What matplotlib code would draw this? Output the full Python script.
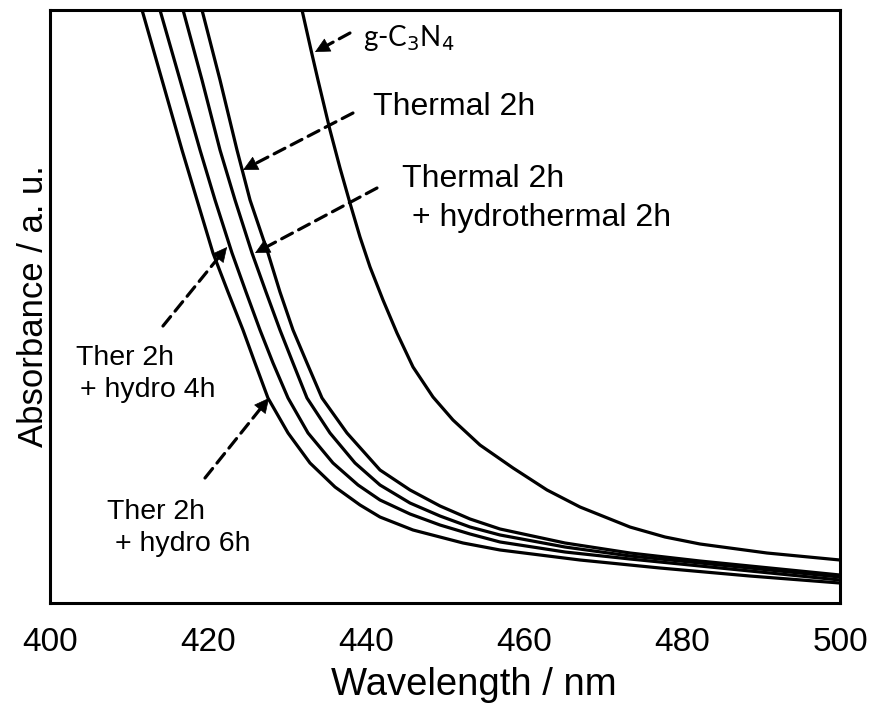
import matplotlib
matplotlib.use("Agg")
import matplotlib.pyplot as plt

plt.rcParams['font.family'] = ['Liberation Sans', 'DejaVu Sans']

# ---- data (absorbance in arbitrary units, 0..1 = plot height)
wl_g = [431.90, 433.04, 433.92, 435.44, 436.71, 437.97, 439.24, 440.51, 442.15, 443.92,
        445.95, 448.48, 451.01, 454.43, 458.61, 462.91, 467.09, 473.42, 477.85, 482.28,
        490.76, 500.0]
ab_g = [1.000, 0.9325, 0.8820, 0.7976, 0.7336, 0.6745, 0.6172, 0.5666, 0.5110, 0.4553,
        0.3980, 0.3474, 0.3086, 0.2664, 0.2277, 0.1906, 0.1619, 0.1281, 0.1113, 0.0995,
        0.0843, 0.0725]

wl_t2 = [419.24, 421.52, 423.67, 425.32, 427.59, 429.11, 430.76, 432.53, 434.43, 437.59,
         441.77, 445.57, 449.37, 453.16, 456.96, 465.19, 473.42, 482.28, 491.14, 500.0]
ab_t2 = [1.000, 0.8820, 0.7639, 0.6796, 0.5902, 0.5245, 0.4604, 0.4047, 0.3457, 0.2867,
         0.2243, 0.1906, 0.1636, 0.1417, 0.1248, 0.1012, 0.0843, 0.0708, 0.0590, 0.0472]

wl_h2 = [416.84, 419.24, 421.52, 423.42, 425.57, 427.34, 429.11, 430.76, 432.53, 435.44,
         438.61, 441.77, 445.57, 449.37, 453.16, 456.96, 465.19, 473.42, 482.28, 491.14, 500.0]
ab_h2 = [1.000, 0.8820, 0.7639, 0.6796, 0.5902, 0.5245, 0.4604, 0.4047, 0.3457, 0.2867,
         0.2361, 0.1990, 0.1686, 0.1467, 0.1282, 0.1147, 0.0944, 0.0793, 0.0675, 0.0556, 0.0438]

wl_h4 = [413.92, 416.46, 418.99, 420.89, 423.04, 424.81, 426.58, 428.23, 430.13, 432.66,
         435.82, 438.99, 441.77, 445.57, 449.37, 453.16, 456.96, 465.19, 473.42, 482.28,
         491.14, 500.0]
ab_h4 = [1.000, 0.8820, 0.7639, 0.6796, 0.5902, 0.5245, 0.4604, 0.4047, 0.3457, 0.2867,
         0.2361, 0.1990, 0.1737, 0.1501, 0.1315, 0.1164, 0.1029, 0.0860, 0.0742, 0.0624,
         0.0506, 0.0388]

wl_h6 = [411.65, 414.18, 416.71, 418.61, 420.63, 422.53, 424.43, 425.95, 427.59, 430.13,
         432.91, 436.08, 439.24, 441.77, 445.95, 452.28, 456.96, 467.09, 477.22, 488.61, 500.0]
ab_h6 = [1.000, 0.8820, 0.7639, 0.6796, 0.5902, 0.5245, 0.4604, 0.4047, 0.3457, 0.2867,
         0.2361, 0.1956, 0.1653, 0.1450, 0.1231, 0.1012, 0.0894, 0.0725, 0.0590, 0.0455, 0.0337]

xticks = [400, 420, 440, 460, 480, 500]

fig = plt.figure(figsize=(8.72, 7.05), dpi=100)
ax = fig.add_axes([50/872, 1-603/705, 790/872, 593/705])

lw = 2.3
for wl, ab in [(wl_g, ab_g), (wl_t2, ab_t2), (wl_h2, ab_h2), (wl_h4, ab_h4), (wl_h6, ab_h6)]:
    ax.plot(wl, ab, color='black', lw=lw, solid_joinstyle='round')

ax.set_xlim(400, 500)
ax.set_ylim(0, 1)
ax.set_xticks(xticks)
ax.set_xticklabels([str(t) for t in xticks])
ax.set_yticks([])
ax.tick_params(axis='x', length=0, pad=17, labelsize=24)
for s in ax.spines.values():
    s.set_linewidth(2.2)

xl = ax.set_xlabel('Wavelength / nm', fontsize=27.5, va='baseline')
ax.xaxis.set_label_coords(0.537, -0.155)
ax.set_ylabel('Absorbance / a. u.', fontsize=25, labelpad=0)


def dashed_arrow(start, tip):
    ax.annotate('', xy=tip, xytext=start,
                arrowprops=dict(arrowstyle='-', linestyle=(0, (3.8, 2.2)), lw=2.3,
                                color='black', shrinkA=0, shrinkB=4))
    dx = tip[0] - start[0]
    dy = tip[1] - start[1]
    f = 0.12
    ax.annotate('', xy=tip, xytext=(tip[0] - dx * f, tip[1] - dy * f),
                arrowprops=dict(arrowstyle='-|>,head_length=0.7,head_width=0.35', lw=0.5,
                                color='black', shrinkA=0, shrinkB=0, mutation_scale=14))


dashed_arrow((437.97, 0.9612), (433.54, 0.9292))
dashed_arrow((438.35, 0.8263), (424.43, 0.7302))
dashed_arrow((441.39, 0.6998), (425.95, 0.5902))
dashed_arrow((414.30, 0.4671), (422.41, 0.6003))
dashed_arrow((419.62, 0.2108), (427.72, 0.3457))

tfs = 23
sfs = 20.5
ax.text(439.6, 0.952, 'g-C$_3$N$_4$', fontsize=20, family=['Lato', 'DejaVu Sans'],
        ha='left', va='center', math_fontfamily='custom')
ax.text(440.9, 0.837, 'Thermal 2h', fontsize=tfs, ha='left', va='center')
ax.text(444.5, 0.715, 'Thermal 2h', fontsize=tfs, ha='left', va='center')
ax.text(445.8, 0.650, '+ hydrothermal 2h', fontsize=tfs, ha='left', va='center')
ax.text(403.3, 0.413, 'Ther 2h', fontsize=sfs, ha='left', va='center')
ax.text(403.8, 0.360, '+ hydro 4h', fontsize=sfs, ha='left', va='center')
ax.text(407.2, 0.153, 'Ther 2h', fontsize=sfs, ha='left', va='center')
ax.text(408.2, 0.100, '+ hydro 6h', fontsize=sfs, ha='left', va='center')

fig.savefig('out.png', dpi=100)
